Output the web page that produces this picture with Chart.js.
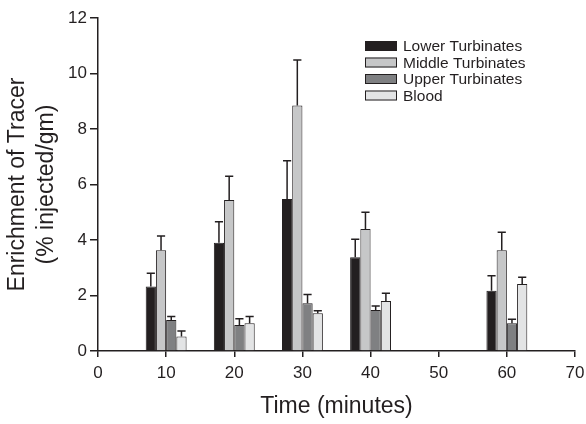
<!DOCTYPE html>
<html lang="en">
<head>
<meta charset="UTF-8">
<title>Enrichment of Tracer</title>
<script src="https://cdn.jsdelivr.net/npm/chart.js"></script>
<style>
  html, body { margin: 0; padding: 0; background: #fff; }
  #wrap { width: 586px; height: 424px; }
</style>
</head>
<body>
<div id="wrap"><canvas id="chart" width="586" height="424"></canvas></div>
<script>
// time points (minutes)
const times = [10, 20, 30, 40, 60];

// means
const lowerTurb = [2.32, 3.90, 5.48, 3.38, 2.17];
const middleTurb = [3.63, 5.44, 8.85, 4.40, 3.63];
const upperTurb = [1.12, 0.94, 1.72, 1.48, 1.00];
const blood = [0.52, 1.00, 1.36, 1.80, 2.41];

// upper error bar lengths
const lowerErr = [0.48, 0.76, 1.38, 0.65, 0.54];
const middleErr = [0.51, 0.86, 1.64, 0.60, 0.65];
const upperErr = [0.12, 0.22, 0.32, 0.14, 0.14];
const bloodErr = [0.20, 0.24, 0.09, 0.28, 0.25];

const seriesNames = ['Lower Turbinates', 'Middle Turbinates', 'Upper Turbinates', 'Blood'];
const seriesColors = ['#231f20', '#c6c7c8', '#7f8082', '#e3e4e5'];
const xTicks = [0, 10, 20, 30, 40, 50, 60, 70];
const yTicks = [0, 2, 4, 6, 8, 10, 12];

const ink = '#231f20';
const font = "'Liberation Sans', Arial, sans-serif";

function makeSet(i, vals, errs) {
  return {
    label: seriesNames[i],
    data: times.map((t, k) => ({ x: t, y: vals[k] })),
    errors: errs,
    backgroundColor: seriesColors[i],
    borderColor: ink,
    borderWidth: 1,
    borderSkipped: 'bottom',
    categoryPercentage: 0.6,
    barPercentage: 1.0
  };
}

const errorBars = {
  id: 'errorBars',
  afterDatasetsDraw(chart) {
    const ctx = chart.ctx;
    const yScale = chart.scales.y;
    ctx.save();
    ctx.strokeStyle = ink;
    ctx.lineWidth = 1.5;
    chart.data.datasets.forEach((ds, i) => {
      const meta = chart.getDatasetMeta(i);
      meta.data.forEach((bar, k) => {
        const top = yScale.getPixelForValue(ds.data[k].y + ds.errors[k]);
        const half = bar.width * 0.4;
        ctx.beginPath();
        ctx.moveTo(bar.x, bar.y);
        ctx.lineTo(bar.x, top);
        ctx.moveTo(bar.x - half, top);
        ctx.lineTo(bar.x + half, top);
        ctx.stroke();
      });
    });
    ctx.restore();
  }
};

const boxLegend = {
  id: 'boxLegend',
  afterDraw(chart) {
    const ctx = chart.ctx;
    ctx.save();
    ctx.font = '15.5px ' + font;
    ctx.textBaseline = 'middle';
    seriesNames.forEach((name, i) => {
      const cy = 46 + i * 16.5;
      ctx.fillStyle = seriesColors[i];
      ctx.fillRect(365, cy - 5, 32, 10);
      ctx.strokeStyle = ink;
      ctx.lineWidth = 1;
      ctx.strokeRect(365.5, cy - 4.5, 31, 9);
      ctx.fillStyle = ink;
      ctx.fillText(name, 403, cy + 1);
    });
    ctx.restore();
  }
};

new Chart(document.getElementById('chart'), {
  type: 'bar',
  data: {
    datasets: [
      makeSet(0, lowerTurb, lowerErr),
      makeSet(1, middleTurb, middleErr),
      makeSet(2, upperTurb, upperErr),
      makeSet(3, blood, bloodErr)
    ]
  },
  options: {
    responsive: false,
    animation: false,
    layout: { padding: { top: 18, right: 11, left: 0, bottom: 0 } },
    plugins: {
      legend: { display: false },
      tooltip: { enabled: false }
    },
    scales: {
      x: {
        type: 'linear',
        min: 0,
        max: 70,
        offset: false,
        afterBuildTicks: s => { s.ticks = xTicks.map(v => ({ value: v })); },
        afterFit: s => { s.height = 73; s.paddingRight = 0; s.paddingLeft = 0; },
        grid: { offset: false, drawOnChartArea: false, drawTicks: true, tickLength: 6, color: ink, lineWidth: 1.5 },
        border: { color: ink, width: 1.5 },
        ticks: { color: ink, font: { family: font, size: 17 }, padding: 6, maxRotation: 0 },
        title: { display: true, text: 'Time (minutes)', color: ink, font: { family: font, size: 23 }, padding: { top: 6 } }
      },
      y: {
        min: 0,
        max: 12,
        afterBuildTicks: s => { s.ticks = yTicks.map(v => ({ value: v })); },
        afterFit: s => { s.width = 98; },
        grid: { drawOnChartArea: false, drawTicks: true, tickLength: 8, color: ink, lineWidth: 1.5 },
        border: { color: ink, width: 1.5 },
        ticks: { color: ink, font: { family: font, size: 17 }, padding: 3 },
        title: {
          display: true,
          text: ['Enrichment of Tracer', '(% injected/gm)'],
          color: ink,
          font: { family: font, size: 23, lineHeight: 1.26 },
          padding: { top: 3, bottom: 4 }
        }
      }
    }
  },
  plugins: [errorBars, boxLegend]
});
</script>
</body>
</html>
